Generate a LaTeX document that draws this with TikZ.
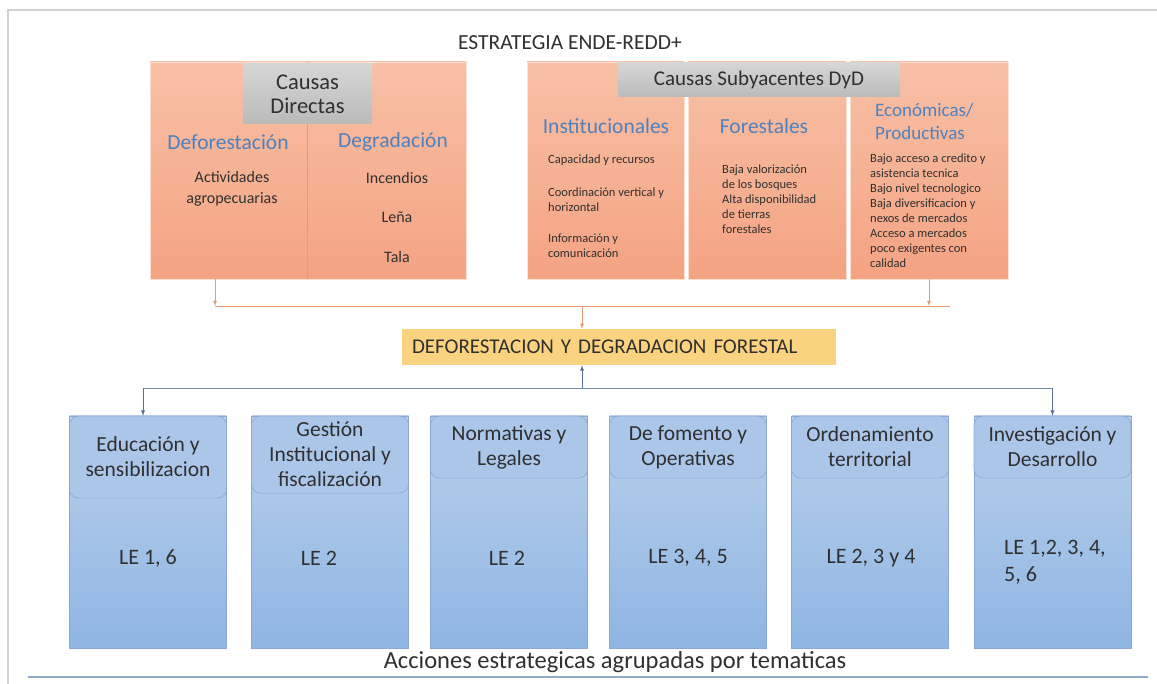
\documentclass[tikz,border=0pt]{standalone}
\usepackage{fontspec}
\setmainfont{Carlito}
\usepackage{xcolor}
\usepackage{tikz}

\definecolor{naranjaArriba}{RGB}{248,192,166}
\definecolor{naranjaAbajo}{RGB}{244,163,130}
\definecolor{naranjaLinea}{RGB}{229,155,115}
\definecolor{grisArriba}{RGB}{214,214,214}
\definecolor{grisAbajo}{RGB}{186,186,186}
\definecolor{azulTitulo}{RGB}{79,129,189}
\definecolor{textoOscuro}{RGB}{48,48,48}
\definecolor{amarillo}{RGB}{250,211,128}
\definecolor{azulArriba}{RGB}{186,208,236}
\definecolor{azulAbajo}{RGB}{143,181,227}
\definecolor{azulCabeza}{RGB}{171,198,233}
\definecolor{azulBorde}{RGB}{138,168,210}
\definecolor{azulLinea}{RGB}{85,110,155}
\definecolor{lineaPie}{RGB}{143,170,204}

\begin{document}
\begin{tikzpicture}[x=1pt, y=-1pt, >=latex,
	causa/.style={draw=naranjaArriba!50!white, line width=.5pt, top color=naranjaArriba, bottom color=naranjaAbajo, inner sep=0pt, minimum height=217},
	gris/.style={top color=grisArriba, bottom color=grisAbajo, inner sep=0pt, align=center, text=textoOscuro},
	cabecera/.style={text=azulTitulo, font=\fontsize{21.5}{24}\selectfont},
	medio/.style={text=textoOscuro, align=center, font=\fontsize{16}{21}\selectfont},
	chico/.style={text=textoOscuro, align=left, inner sep=0pt, font=\fontsize{12.5}{15}\selectfont},
	linea/.style={draw=azulBorde, line width=.4pt, top color=azulArriba, bottom color=azulAbajo, minimum width=157, minimum height=232, inner sep=0pt},
	tema/.style={fill=azulCabeza, draw=azulBorde, line width=.6pt, rounded corners=9pt, minimum width=157, inner sep=0pt, anchor=north, align=center, text=textoOscuro, font=\fontsize{21.5}{25}\selectfont},
	le/.style={text=textoOscuro, align=left, font=\fontsize{22}{27}\selectfont},
	flechaNar/.style={->, draw=naranjaLinea, line width=.8pt},
	flechaAzul/.style={->, draw=azulLinea, line width=.9pt}]

	\fill[white] (0,0) rectangle (1157,684);
	\useasboundingbox (0,0) rectangle (1157,684);
	\draw[gray!35, line width=1.5pt] (8,684) -- (8,10) -- (1157,10);

	\node[text=textoOscuro, font=\fontsize{21.5}{24}\selectfont] (titulo) at (570,43) {ESTRATEGIA ENDE-REDD+};

	% causas directas
	\node[causa, minimum width=157] (defo) at (228.5,170.5) {};
	\node[causa, minimum width=159] (degr) at (386.5,170.5) {};
	\draw[naranjaLinea, line width=.6pt] (defo.north east) -- (defo.south east);
	\node[gris, minimum width=129, minimum height=60, font=\fontsize{22.5}{24}\selectfont] (directas) at (307.5,94) {Causas\\Directas};
	\node[cabecera] (tdefo) at (228,142) {Deforestación};
	\node[cabecera] (tdegr) at (393,142) {Degradación};
	\node[medio] (agro) at (232,188.5) {Actividades\\agropecuarias};
	\node[medio] (incendios) at (397,178) {Incendios};
	\node[medio] (lena) at (397,217) {Leña};
	\node[medio] (tala) at (397,257) {Tala};

	% causas subyacentes
	\node[causa, minimum width=157] (inst) at (605.5,170.5) {};
	\node[causa, minimum width=158] (fore) at (767,170.5) {};
	\node[causa, minimum width=158] (econ) at (929,170.5) {};
	\node[gris, minimum width=282, minimum height=34, font=\fontsize{21}{23}\selectfont] (subyacentes) at (759,80) {Causas Subyacentes DyD};
	\node[cabecera] (tinst) at (606,126) {Institucionales};
	\node[chico, anchor=west] (capacidad) at (548,160) {Capacidad y recursos};
	\node[chico, anchor=west] (coordinacion) at (548,200) {Coordinación vertical y\\horizontal};
	\node[chico, anchor=west] (informacion) at (548,245.5) {Información y\\comunicación};
	\node[cabecera] (tfore) at (764,126) {Forestales};
	\node[chico, anchor=west] (bosques) at (722,199) {Baja valorización\\de los bosques\\Alta disponibilidad\\de tierras\\forestales};
	\node[cabecera, anchor=west, align=left, inner sep=0pt, font=\fontsize{19}{23}\selectfont] (tecon) at (875,121) {Económicas/\\Productivas};
	\node[chico, anchor=west] (mercados) at (870,211) {Bajo acceso a credito y\\asistencia tecnica\\Bajo nivel tecnologico\\Baja diversificacion y\\nexos de mercados\\Acceso a mercados\\poco exigentes con\\calidad};

	\node[fill=amarillo, minimum height=36, text width=414, inner xsep=10pt, align=left, text=textoOscuro, font=\fontsize{21}{24}\selectfont] (dd) at (619,347) {DEFORESTACION Y DEGRADACION FORESTAL};

	\coordinate (jL) at (215,306);
	\coordinate (jM) at (582,306);
	\coordinate (jR) at (950,306);
	\draw[flechaNar] (defo.south -| jL) -- (jL);
	\draw[flechaNar] (econ.south) -- (econ.south |- jL);
	\draw[naranjaLinea, line width=.8pt] (jL) -- (jR);
	\draw[flechaNar] (jM) -- (dd.north -| jM);

	% acciones estrategicas
	\node[linea] (edu) at (148,532) {};
	\node[linea] (ges) at (330,532) {};
	\node[linea] (norm) at (509,532) {};
	\node[linea] (fom) at (688,532) {};
	\node[linea] (ord) at (870,532) {};
	\node[linea] (inv) at (1052.5,532) {};
	\node[tema, minimum height=82] (hedu) at (edu.north) {Educación y\\sensibilizacion};
	\node[tema, minimum height=77] (hges) at (ges.north) {Gestión\\Institucional y\\fiscalización};
	\node[tema, minimum height=62] (hnorm) at (norm.north) {Normativas y\\Legales};
	\node[tema, minimum height=62] (hfom) at (fom.north) {De fomento y\\Operativas};
	\node[tema, minimum height=62] (hord) at (ord.north) {Ordenamiento\\territorial};
	\node[tema, minimum height=62] (hinv) at (inv.north) {Investigación y\\Desarrollo};
	\node[le] (ledu) at (148,558) {LE 1, 6};
	\node[le] (lges) at (319,558) {LE 2};
	\node[le] (lnorm) at (507,558) {LE 2};
	\node[le] (lfom) at (688,558) {LE 3, 4, 5};
	\node[le] (lord) at (871,558) {LE 2, 3 y 4};
	\node[le, anchor=west, inner sep=0pt] (linv) at (1004,562) {LE 1,2, 3, 4,\\5, 6};

	\coordinate (bL) at (143,388);
	\coordinate (bM) at (582,388);
	\coordinate (bR) at (1052.5,388);
	\draw[azulLinea!80, line width=.9pt] (bL) -- (bR);
	\draw[flechaAzul] (bM) -- (dd.south -| bM);
	\draw[flechaAzul] (bL) -- (edu.north -| bL);
	\draw[flechaAzul] (bR) -- (inv.north);

	\node[text=textoOscuro, font=\fontsize{24.5}{27}\selectfont] (acciones) at (615,662) {Acciones estrategicas agrupadas por tematicas};
	\draw[lineaPie, line width=1.2pt] (28,677) -- (1148,677);
\end{tikzpicture}
\end{document}
